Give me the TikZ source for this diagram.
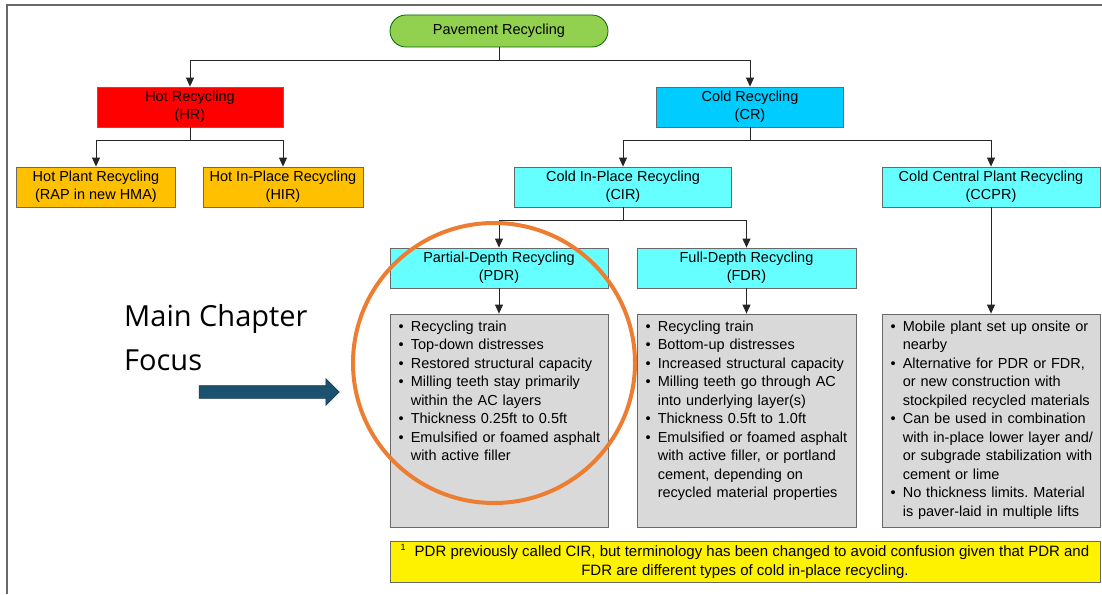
\documentclass[tikz,border=0pt]{standalone}
\usepackage{fontspec}
\setmainfont{Liberation Sans}
\newfontfamily\calloutfont{Open Sans}
\usepackage{enumitem}
\usepackage{xcolor}
\usepackage{tikz}
\usetikzlibrary{positioning, shapes, arrows.meta}

\definecolor{rootgreen}{RGB}{146,208,80}
\definecolor{hotred}{RGB}{255,0,0}
\definecolor{hotorange}{RGB}{255,192,0}
\definecolor{coldblue}{RGB}{0,204,255}
\definecolor{coldcyan}{RGB}{102,255,255}
\definecolor{listgray}{RGB}{217,217,217}
\definecolor{ringorange}{RGB}{237,125,49}
\definecolor{focusblue}{RGB}{28,82,112}
\definecolor{edgegray}{RGB}{105,105,105}

\newcommand{\boxfont}{\fontsize{14.5}{18}\selectfont}
\newcommand{\listfont}{\fontsize{14.5}{18.5}\selectfont}
\newenvironment{facts}{\begin{itemize}[leftmargin=13pt, labelsep=7pt, nosep]}{\end{itemize}}
\frenchspacing

\begin{document}
\begin{tikzpicture}[x=1pt, y=-1pt,
    box/.style={draw=edgegray, line width=0.8pt, minimum height=40pt, align=center, inner sep=0pt, font=\boxfont},
    listbox/.style={draw=edgegray, line width=0.8pt, fill=listgray, minimum width=218pt, minimum height=213pt, inner sep=0pt},
    listtext/.style={anchor=north west, inner sep=0pt, text width=205pt, align=left, font=\listfont},
    link/.style={draw=black!85, line width=0.9pt},
    >={Triangle[length=9pt, width=8pt]}]
  \useasboundingbox (0,0) rectangle (1102,594);
  % frame
  \draw[edgegray, line width=1.5pt] (7,594) -- (7,5) -- (1102,5);

  % tree
  \node[box, fill=rootgreen, draw=black!60!green, rounded corners=16pt, minimum width=218pt, minimum height=32pt] (root) at (499,31) {Pavement Recycling};
  \node[box, fill=hotred, minimum width=186pt] (hr) at (190,107) {Hot Recycling\\(HR)};
  \node[box, fill=coldblue, minimum width=187pt] (cr) at (750,107) {Cold Recycling\\(CR)};
  \node[box, fill=hotorange, minimum width=159pt] (hpr) at (96,187) {Hot Plant Recycling\\(RAP in new HMA)};
  \node[box, fill=hotorange, minimum width=160pt] (hir) at (283,187) {Hot In-Place Recycling\\(HIR)};
  \node[box, fill=coldcyan, minimum width=217pt] (cir) at (623,187) {Cold In-Place Recycling\\(CIR)};
  \node[box, fill=coldcyan, minimum width=218pt] (ccpr) at (991,187) {Cold Central Plant Recycling\\(CCPR)};
  \node[box, fill=coldcyan, minimum width=218pt] (pdr) at (499,268) {Partial-Depth Recycling\\(PDR)};
  \node[box, fill=coldcyan, minimum width=219pt] (fdr) at (746.5,268) {Full-Depth Recycling\\(FDR)};

  \node[listbox] (pdrlist) at (499,420.5) {};
  \node[listbox, minimum width=219pt] (fdrlist) at (746.5,420.5) {};
  \node[listbox] (ccprlist) at (991,420.5) {};

  \node[listtext] (pdrtext) at ([shift={(8,-1)}]pdrlist.north west) {\begin{facts}
    \item Recycling train
    \item Top-down distresses
    \item Restored structural capacity
    \item Milling teeth stay primarily within the AC layers
    \item Thickness 0.25ft to 0.5ft
    \item Emulsified or foamed asphalt with active filler
  \end{facts}};
  \node[listtext] (fdrtext) at ([shift={(8,-1)}]fdrlist.north west) {\begin{facts}
    \item Recycling train
    \item Bottom-up distresses
    \item Increased structural capacity
    \item Milling teeth go through AC into underlying layer(s)
    \item Thickness 0.5ft to 1.0ft
    \item Emulsified or foamed asphalt with active filler, or portland cement, depending on recycled material properties
  \end{facts}};
  \node[listtext] (ccprtext) at ([shift={(8,-1)}]ccprlist.north west) {\begin{facts}
    \item Mobile plant set up onsite or nearby
    \item Alternative for PDR or FDR, or new construction with stockpiled recycled materials
    \item Can be used in combination with in-place lower layer and/ or subgrade stabilization with cement or lime
    \item No thickness limits. Material is paver-laid in multiple lifts
  \end{facts}};

  % footnote
  \node[box, fill=yellow, minimum width=710pt, minimum height=41pt, font=\fontsize{15}{19}\selectfont] (note) at (745,561.5) {\raisebox{6pt}{\fontsize{9}{9}\selectfont 1}\hspace{9pt}PDR previously called CIR, but terminology has been changed to avoid confusion given that PDR and\\FDR are different types of cold in-place recycling.};

  % connectors
  \draw[link, ->] (root.south) -- ++(0,13) -| (hr.north);
  \draw[link, ->] (root.south) -- ++(0,13) -| (cr.north);
  \draw[link, ->] (hr.south) -- ++(0,13) -| (hpr.north);
  \draw[link, ->] (hr.south) -- ++(0,13) -| (hir.north);
  \draw[link, ->] (cr.south) -- ++(0,13) -| (cir.north);
  \draw[link, ->] (cr.south) -- ++(0,13) -| (ccpr.north);
  \draw[link, ->] (cir.south) -- ++(0,13) -| (pdr.north);
  \draw[link, ->] (cir.south) -- ++(0,13) -| (fdr.north);
  \draw[link, ->] (pdr.south) -- (pdrlist.north);
  \draw[link, ->] (fdr.south) -- (fdrlist.north);
  \draw[link, ->] (ccpr.south) -- (ccprlist.north);

  % focus callout
  \node[anchor=west, align=left, font=\calloutfont\fontsize{29}{44}\selectfont, inner sep=0pt] (focus) at (124,338) {Main Chapter\\Focus};
  \node[single arrow, fill=focusblue, draw=focusblue!70!black, line width=0.6pt, minimum height=140pt, inner xsep=0pt, inner ysep=6pt, single arrow head extend=7pt] (focusarrow) at (266,392) {};
  \draw[ringorange, line width=4pt] (494,363) ellipse [x radius=141, y radius=140];
\end{tikzpicture}
\end{document}
